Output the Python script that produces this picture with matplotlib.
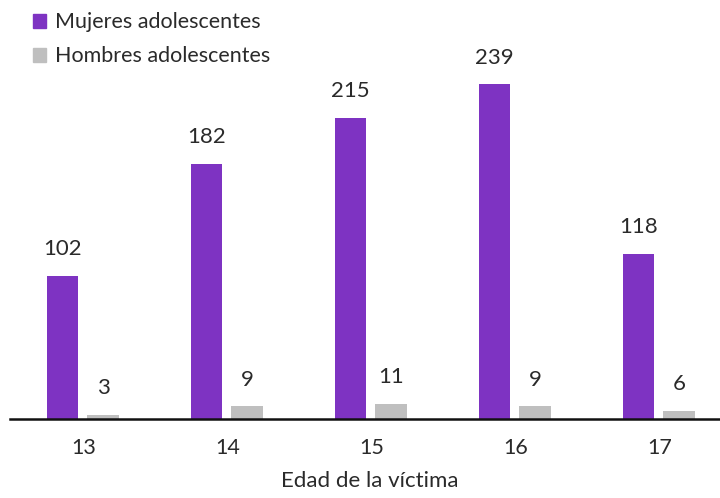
import numpy as np
import matplotlib.pyplot as plt
from matplotlib.patches import Patch

# --- Data ---
edades = ["13", "14", "15", "16", "17"]
mujeres = [102, 182, 215, 239, 118]
hombres = [3, 9, 11, 9, 6]

PURPLE = "#7E33C2"
GRAY = "#BFBFBF"
TXT = "#2A2A2A"

plt.rcParams["font.family"] = ["Lato", "DejaVu Sans"]

fig = plt.figure(figsize=(7.2, 4.98), dpi=100)
ax = fig.add_axes([0.014, 0.1586, 0.986, 0.8014])

x = np.arange(len(edades))
w = 0.22
b1 = ax.bar(x - 0.145, mujeres, w, color=PURPLE)
b2 = ax.bar(x + 0.135, hombres, w, color=GRAY)

for bars, vals in ((b1, mujeres), (b2, hombres)):
    for r, v in zip(bars, vals):
        ax.text(r.get_x() + r.get_width() / 2, v + 12, str(v),
                ha="center", va="bottom", fontsize=16, color=TXT)

ax.set_xlim(-0.51, 4.42)
ax.set_ylim(0, 285)
ax.set_xticks(x)
ax.set_xticklabels(edades, fontsize=15.5, color=TXT)
ax.tick_params(axis="x", length=0, pad=14)
ax.set_yticks([])
for s in ("top", "right", "left"):
    ax.spines[s].set_visible(False)
ax.spines["bottom"].set_linewidth(1.8)
ax.spines["bottom"].set_color("#111111")

fig.text(0.514, 0.014, "Edad de la víctima", ha="center", va="bottom",
         fontsize=16, color=TXT)

handles = [Patch(color=PURPLE, label="Mujeres adolescentes"),
           Patch(color=GRAY, label="Hombres adolescentes")]
fig.legend(handles=handles, loc="upper left", bbox_to_anchor=(0.046, 0.975),
           frameon=False, fontsize=15.5, handlelength=0.6, handleheight=0.6,
           handletextpad=0.4, labelspacing=0.65, labelcolor=TXT,
           borderpad=0, borderaxespad=0)

fig.savefig("out.png", dpi=100)
